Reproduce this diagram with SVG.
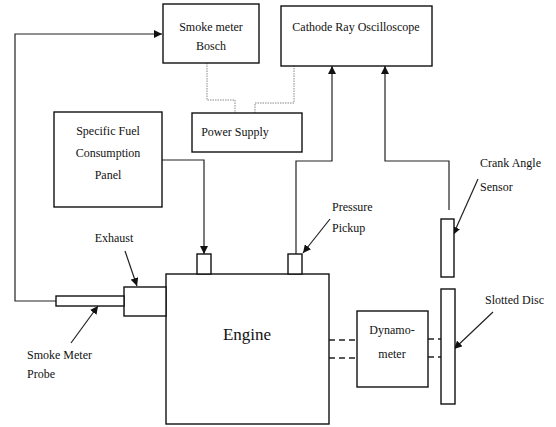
<svg xmlns="http://www.w3.org/2000/svg" width="556" height="427" viewBox="0 0 556 427">
<defs>
<marker id="ah" viewBox="0 0 10 10" refX="10" refY="5" markerWidth="8" markerHeight="8" markerUnits="userSpaceOnUse" orient="auto">
<path d="M0,0 L10,5 L0,10 z" fill="#111"/>
</marker>
</defs>
<style>
.box{fill:#fff;stroke:#111;stroke-width:1.4}
.ln{fill:none;stroke:#222;stroke-width:1.2}
.dot{fill:none;stroke:#888;stroke-width:1;stroke-dasharray:1.5 1}
.dash{fill:none;stroke:#222;stroke-width:1.3;stroke-dasharray:6 4}
text{font-family:"Liberation Serif","Times New Roman",serif;font-size:12px;fill:#111}
.c{text-anchor:middle}
</style>
<rect width="556" height="427" fill="#fff"/>
<g id="connectors">
<path class="ln" d="M56,301 H15 V34 H162" marker-end="url(#ah)"/>
<path class="dot" d="M207,63 V100 H235 V113"/>
<path class="dot" d="M255,113 V103 H294 V66"/>
<path class="ln" d="M162,160 H204 V254" marker-end="url(#ah)"/>
<path class="ln" d="M296,254 V161 H332 V66" marker-end="url(#ah)"/>
<path class="ln" d="M449,210 V161 H385 V66" marker-end="url(#ah)"/>
<path class="dash" d="M329,340 H357 M329,358 H357 M428,339 H441 M428,357 H441"/>
<path class="ln" d="M125,251 L137,286" marker-end="url(#ah)"/>
<path class="ln" d="M71,343 L98,306" marker-end="url(#ah)"/>
<path class="ln" d="M330,219 L303,253" marker-end="url(#ah)"/>
<path class="ln" d="M478,179 L453,235" marker-end="url(#ah)"/>
<path class="ln" d="M493,312 L454,349" marker-end="url(#ah)"/>
</g>
<g id="smoke-meter">
<rect class="box" x="163" y="4" width="96" height="59"/>
<text class="c" x="211" y="31">Smoke meter</text>
<text class="c" x="211" y="50">Bosch</text>
</g>
<g id="cro">
<rect class="box" x="281" y="6" width="151" height="60"/>
<text class="c" x="356" y="31">Cathode Ray Oscilloscope</text>
</g>
<g id="power-supply">
<rect class="box" x="192" y="113" width="110" height="39"/>
<text class="c" x="235" y="136">Power Supply</text>
</g>
<g id="sfc-panel">
<rect class="box" x="54" y="112" width="108" height="95"/>
<text class="c" x="108" y="135">Specific Fuel</text>
<text class="c" x="108" y="157">Consumption</text>
<text class="c" x="108" y="179">Panel</text>
</g>
<g id="engine">
<rect class="box" x="166" y="274" width="163" height="150"/>
<text class="c" x="247" y="340" style="font-size:17px">Engine</text>
</g>
<g id="fuel-port">
<rect class="box" x="197" y="254" width="14" height="20"/>
</g>
<g id="pressure-pickup">
<rect class="box" x="288" y="254" width="14" height="20"/>
<text x="332" y="211">Pressure</text>
<text x="332" y="232">Pickup</text>
</g>
<g id="exhaust">
<rect class="box" x="124" y="287" width="42" height="29"/>
<text class="c" x="114" y="242">Exhaust</text>
</g>
<g id="probe">
<rect class="box" x="56" y="296" width="68" height="10"/>
<text x="27" y="359">Smoke Meter</text>
<text x="27" y="378">Probe</text>
</g>
<g id="crank-sensor">
<rect class="box" x="441" y="219" width="13" height="58"/>
<text x="480" y="167">Crank Angle</text>
<text x="480" y="191">Sensor</text>
</g>
<g id="dynamometer">
<rect class="box" x="357" y="311" width="71" height="76"/>
<text class="c" x="392" y="334">Dynamo-</text>
<text class="c" x="392" y="358">meter</text>
</g>
<g id="slotted-disc">
<rect class="box" x="441" y="289" width="14" height="115"/>
<text x="485" y="304">Slotted Disc</text>
</g>
</svg>
